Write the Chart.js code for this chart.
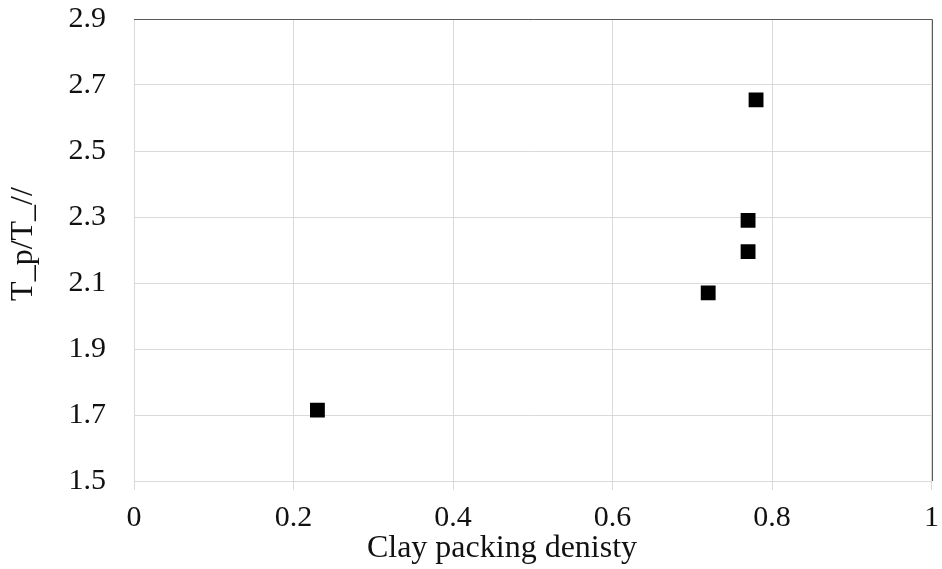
<!DOCTYPE html>
<html>
<head>
<meta charset="utf-8">
<script src="https://cdn.jsdelivr.net/npm/chart.js@4/dist/chart.umd.min.js"></script>
<style>
  html, body { margin: 0; padding: 0; background: #fff; }
  canvas { display: block; }
</style>
</head>
<body>
<canvas id="packingChart" width="942" height="569"></canvas>
<script>
// Clay packing density vs. T_p/T_// ratio
const clayDensity = [0.23, 0.72, 0.77, 0.77, 0.78];
const torqueRatio = [1.715, 2.07, 2.195, 2.29, 2.655];

const xTitle = 'Clay packing denisty';
const yTitle = 'T_p/T_//';

const FONT = "'Liberation Serif', 'Times New Roman', serif";
const GRID = '#d9d9d9';
const FRAME = '#595959';
const TEXT = '#111';

// dark top/right frame edges plus the two axis titles
const frameAndTitles = {
  id: 'frameAndTitles',
  afterDraw(chart) {
    const { ctx, chartArea: a } = chart;
    ctx.save();
    ctx.strokeStyle = FRAME;
    ctx.lineWidth = 1;
    ctx.beginPath();
    ctx.moveTo(a.left, Math.round(a.top) + 0.5);
    ctx.lineTo(Math.round(a.right) + 0.5, Math.round(a.top) + 0.5);
    ctx.lineTo(Math.round(a.right) + 0.5, a.bottom);
    ctx.stroke();

    ctx.fillStyle = TEXT;
    ctx.font = '32px ' + FONT;
    ctx.textAlign = 'center';
    ctx.textBaseline = 'alphabetic';
    ctx.fillText(xTitle, 502, 557);

    ctx.translate(24, 244);
    ctx.rotate(-Math.PI / 2);
    ctx.textBaseline = 'middle';
    ctx.fillText(yTitle, 0, 0);
    ctx.restore();
  }
};

const points = clayDensity.map((x, i) => ({ x: x, y: torqueRatio[i] }));

new Chart(document.getElementById('packingChart').getContext('2d'), {
  type: 'scatter',
  data: {
    datasets: [{
      data: points,
      pointStyle: 'rect',
      pointRadius: 10.5,
      pointHoverRadius: 10.5,
      backgroundColor: '#000',
      borderColor: '#000',
      borderWidth: 0
    }]
  },
  options: {
    responsive: false,
    animation: false,
    devicePixelRatio: 1,
    layout: {
      padding: { top: 19, right: 9, left: 0, bottom: 0 }
    },
    plugins: {
      legend: { display: false },
      tooltip: { enabled: false }
    },
    scales: {
      x: {
        type: 'linear',
        min: 0,
        max: 1,
        afterFit: scale => {
          scale.height = 88;
          scale.paddingLeft = 0;
          scale.paddingRight = 0;
        },
        ticks: {
          stepSize: 0.2,
          padding: 10,
          color: TEXT,
          font: { family: FONT, size: 30 },
          maxRotation: 0,
          callback: v => String(+v.toFixed(1))
        },
        grid: { color: GRID, tickLength: 9, drawTicks: true },
        border: { color: GRID }
      },
      y: {
        type: 'linear',
        min: 1.5,
        max: 2.9,
        afterFit: scale => {
          scale.width = 134;
          scale.paddingTop = 0;
          scale.paddingBottom = 0;
        },
        ticks: {
          stepSize: 0.2,
          padding: 28,
          color: TEXT,
          font: { family: FONT, size: 30 },
          callback: v => v.toFixed(1)
        },
        grid: { color: GRID, drawTicks: false },
        border: { color: GRID }
      }
    }
  },
  plugins: [frameAndTitles]
});
</script>
</body>
</html>
